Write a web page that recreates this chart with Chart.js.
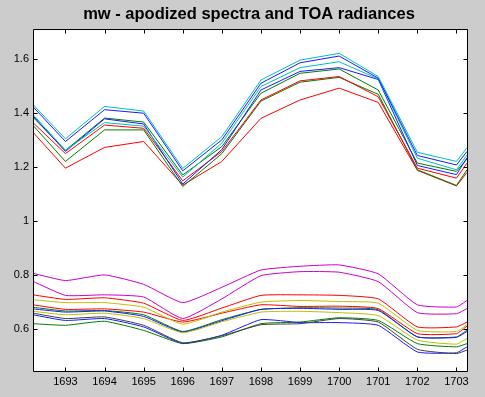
<!DOCTYPE html>
<html>
<head>
<meta charset="utf-8">
<script src="https://cdn.jsdelivr.net/npm/chart.js@4"></script>
<style>
  html, body { margin: 0; padding: 0; background: #cccccc; }
  #wrap { width: 485px; height: 397px; }
</style>
</head>
<body>
<div id="wrap"><canvas id="mwChart" width="485" height="397"></canvas></div>
<script>
// wavenumbers of the samples (first and last are the plot edges)
const wavenumbers = [1692.17, 1693, 1694, 1695, 1696, 1697, 1698, 1699, 1700, 1701, 1702, 1703, 1703.27];
const xTicks = [1693, 1694, 1695, 1696, 1697, 1698, 1699, 1700, 1701, 1702, 1703];
const yTicks = [0.6, 0.8, 1, 1.2, 1.4, 1.6];

// apodized spectra (upper bundle)
const specCyan1  = [1.432, 1.305, 1.425, 1.408, 1.195, 1.313, 1.523, 1.597, 1.622, 1.536, 1.255, 1.221, 1.272];
const specBlue1  = [1.424, 1.295, 1.413, 1.400, 1.186, 1.301, 1.511, 1.587, 1.612, 1.530, 1.243, 1.208, 1.258];
const specCyan2  = [1.395, 1.262, 1.365, 1.352, 1.163, 1.289, 1.499, 1.569, 1.591, 1.527, 1.233, 1.190, 1.245];
const specBlue2  = [1.390, 1.258, 1.379, 1.360, 1.137, 1.265, 1.486, 1.555, 1.569, 1.525, 1.206, 1.172, 1.235];
const specGreen1 = [1.385, 1.262, 1.382, 1.367, 1.171, 1.276, 1.474, 1.548, 1.564, 1.486, 1.215, 1.184, 1.230];
const specRed1   = [1.365, 1.250, 1.356, 1.344, 1.149, 1.258, 1.449, 1.520, 1.536, 1.461, 1.196, 1.159, 1.215];
const specGreen2 = [1.355, 1.221, 1.338, 1.338, 1.128, 1.250, 1.445, 1.515, 1.533, 1.470, 1.190, 1.132, 1.190];
const specRed2   = [1.329, 1.196, 1.273, 1.295, 1.133, 1.221, 1.381, 1.449, 1.493, 1.440, 1.188, 1.130, 1.180];

// TOA radiances (lower bundle)
const toaMagenta1 = [0.806, 0.779, 0.800, 0.765, 0.697, 0.754, 0.818, 0.832, 0.837, 0.804, 0.689, 0.681, 0.705];
const toaMagenta2 = [0.776, 0.724, 0.726, 0.718, 0.638, 0.711, 0.797, 0.812, 0.810, 0.775, 0.660, 0.656, 0.675];
const toaRed1     = [0.726, 0.709, 0.715, 0.695, 0.631, 0.677, 0.724, 0.726, 0.724, 0.711, 0.607, 0.607, 0.625];
const toaYellow1  = [0.708, 0.697, 0.697, 0.680, 0.617, 0.662, 0.699, 0.705, 0.701, 0.695, 0.594, 0.590, 0.615];
const toaRed2     = [0.689, 0.672, 0.674, 0.662, 0.625, 0.658, 0.689, 0.683, 0.684, 0.675, 0.582, 0.582, 0.610];
const toaGreen1   = [0.680, 0.666, 0.668, 0.652, 0.590, 0.634, 0.672, 0.678, 0.677, 0.671, 0.570, 0.570, 0.595];
const toaBlue1    = [0.674, 0.662, 0.666, 0.646, 0.588, 0.630, 0.672, 0.676, 0.672, 0.668, 0.570, 0.568, 0.590];
const toaYellow2  = [0.665, 0.652, 0.658, 0.638, 0.585, 0.626, 0.662, 0.665, 0.660, 0.649, 0.558, 0.543, 0.564];
const toaGreen2   = [0.619, 0.613, 0.628, 0.594, 0.545, 0.570, 0.619, 0.625, 0.641, 0.631, 0.545, 0.533, 0.545];
const toaGray     = [0.658, 0.638, 0.644, 0.613, 0.548, 0.574, 0.615, 0.619, 0.638, 0.625, 0.524, 0.508, 0.521];
const toaBlue2    = [0.652, 0.631, 0.638, 0.607, 0.546, 0.576, 0.634, 0.623, 0.623, 0.613, 0.514, 0.511, 0.533];

const CYAN = '#00bfbf', BLUE = '#1a1aff', GREEN = '#008000', RED = '#ff0000',
      MAGENTA = '#cc00cc', YELLOW = '#bfbf00', GRAY = '#404040';

function series(values, color, tension) {
    return {
        data: values.map((v, i) => ({ x: wavenumbers[i], y: v })),
        borderColor: color,
        borderWidth: 1,
        pointRadius: 0,
        fill: false,
        tension: tension
    };
}

// white axes box, inward ticks on all four sides, and the title
const matlabFrame = {
    id: 'matlabFrame',
    beforeDraw(chart) {
        const { ctx, chartArea: a } = chart;
        ctx.save();
        ctx.fillStyle = '#ffffff';
        ctx.fillRect(a.left, a.top, a.right - a.left, a.bottom - a.top);
        ctx.restore();
    },
    afterDraw(chart) {
        const { ctx, chartArea: a, scales } = chart;
        const L = Math.round(a.left) + 0.5, R = Math.round(a.right) + 0.5;
        const T = Math.round(a.top) + 0.5, B = Math.round(a.bottom) + 0.5;
        ctx.save();
        ctx.strokeStyle = '#000000';
        ctx.lineWidth = 1;
        ctx.beginPath();
        ctx.rect(L, T, R - L, B - T);
        xTicks.forEach(t => {
            const px = Math.round(scales.x.getPixelForValue(t)) + 0.5;
            ctx.moveTo(px, B); ctx.lineTo(px, B - 4);
            ctx.moveTo(px, T); ctx.lineTo(px, T + 4);
        });
        yTicks.forEach(t => {
            const py = Math.round(scales.y.getPixelForValue(t)) + 0.5;
            ctx.moveTo(L, py); ctx.lineTo(L + 4, py);
            ctx.moveTo(R, py); ctx.lineTo(R - 4, py);
        });
        ctx.stroke();

        ctx.fillStyle = '#000000';
        ctx.font = 'bold 16.5px "Liberation Sans", Arial, sans-serif';
        ctx.textAlign = 'center';
        ctx.textBaseline = 'alphabetic';
        ctx.fillText('mw - apodized spectra and TOA radiances', (a.left + a.right) / 2 - 1, 19);
        ctx.restore();
    }
};

const datasets = [
    series(specCyan1, CYAN, 0),
    series(specBlue1, BLUE, 0),
    series(specCyan2, CYAN, 0),
    series(specBlue2, BLUE, 0),
    series(specGreen1, GREEN, 0),
    series(specRed1, RED, 0),
    series(specGreen2, GREEN, 0),
    series(specRed2, RED, 0),
    series(toaMagenta1, MAGENTA, 0.15),
    series(toaMagenta2, MAGENTA, 0.15),
    series(toaRed1, RED, 0.15),
    series(toaYellow1, YELLOW, 0.15),
    series(toaRed2, RED, 0.15),
    series(toaYellow2, YELLOW, 0.15),
    series(toaGray, GRAY, 0.15),
    series(toaBlue2, BLUE, 0.15),
    series(toaGreen2, GREEN, 0.15),
    series(toaBlue1, BLUE, 0.15),
    series(toaGreen1, GREEN, 0.15)
];

const tickFont = { family: '"Liberation Sans", Arial, sans-serif', size: 11 };

new Chart(document.getElementById('mwChart'), {
    type: 'line',
    data: { datasets: datasets },
    options: {
        responsive: false,
        animation: false,
        events: [],
        layout: { padding: { top: 29, right: 18, left: 0, bottom: 0 } },
        plugins: { legend: { display: false }, tooltip: { enabled: false } },
        scales: {
            x: {
                type: 'linear',
                min: wavenumbers[0],
                max: wavenumbers[wavenumbers.length - 1],
                border: { display: false },
                grid: { display: false, drawTicks: false },
                afterBuildTicks: scale => { scale.ticks = xTicks.map(v => ({ value: v })); },
                afterFit: scale => { scale.height = 26; },
                ticks: {
                    color: '#000000',
                    font: tickFont,
                    padding: 4,
                    maxRotation: 0,
                    autoSkip: false,
                    callback: v => String(v)
                }
            },
            y: {
                type: 'linear',
                min: 0.4434,
                max: 1.7124,
                border: { display: false },
                grid: { display: false, drawTicks: false },
                afterBuildTicks: scale => { scale.ticks = yTicks.map(v => ({ value: v })); },
                afterFit: scale => { scale.width = 33; },
                ticks: {
                    color: '#000000',
                    font: tickFont,
                    padding: 4,
                    autoSkip: false,
                    callback: v => String(v)
                }
            }
        }
    },
    plugins: [matlabFrame]
});
</script>
</body>
</html>
